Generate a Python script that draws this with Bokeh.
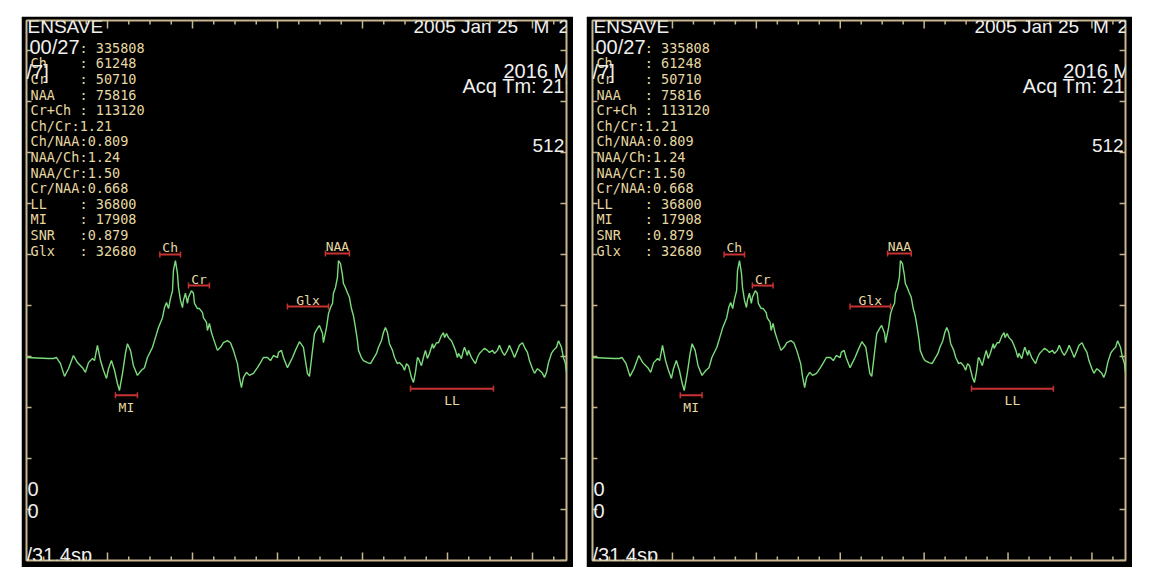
import numpy as np
from bokeh.plotting import figure
from bokeh.models import Range1d, Label
from bokeh.layouts import row
from bokeh.embed import file_html
from bokeh.resources import INLINE
from bokeh.core.properties import value

# ---------------- data ----------------
ppm = [4.300, 4.135, 4.098, 4.075, 4.045, 4.015, 3.985, 3.948, 3.918, 3.880,
       3.858, 3.835, 3.805, 3.790, 3.768, 3.745, 3.723, 3.700, 3.685, 3.663,
       3.640, 3.618, 3.603, 3.580, 3.558, 3.543, 3.520, 3.498, 3.468, 3.438,
       3.415, 3.393, 3.355, 3.333, 3.310, 3.280, 3.265, 3.250, 3.235, 3.220,
       3.205, 3.198, 3.183, 3.168, 3.160, 3.145, 3.130, 3.123, 3.108, 3.093,
       3.085, 3.063, 3.048, 3.040, 3.018, 3.003, 2.980, 2.973, 2.950, 2.943,
       2.928, 2.913, 2.898, 2.868, 2.845, 2.823, 2.793, 2.770, 2.748, 2.718,
       2.703, 2.688, 2.673, 2.650, 2.628, 2.598, 2.568, 2.545, 2.523, 2.493,
       2.470, 2.448, 2.418, 2.410, 2.388, 2.373, 2.343, 2.328, 2.305, 2.283,
       2.253, 2.223, 2.208, 2.193, 2.178, 2.155, 2.140, 2.118, 2.103, 2.080,
       2.073, 2.050, 2.035, 2.020, 2.005, 1.998, 1.983, 1.968, 1.960, 1.945,
       1.930, 1.923, 1.908, 1.893, 1.878, 1.863, 1.848, 1.833, 1.818, 1.810,
       1.788, 1.773, 1.743, 1.720, 1.698, 1.675, 1.660, 1.638, 1.623, 1.608,
       1.593, 1.578, 1.555, 1.540, 1.518, 1.503, 1.480, 1.465, 1.450, 1.435,
       1.413, 1.398, 1.383, 1.368, 1.360, 1.338, 1.323, 1.308, 1.293, 1.278,
       1.255, 1.248, 1.225, 1.210, 1.188, 1.173, 1.165, 1.150, 1.135, 1.113,
       1.098, 1.083, 1.068, 1.060, 1.038, 1.023, 1.015, 0.993, 0.985, 0.963,
       0.948, 0.933, 0.918, 0.903, 0.880, 0.865, 0.843, 0.828, 0.805, 0.790,
       0.768, 0.753, 0.730, 0.715, 0.693, 0.678, 0.655, 0.640, 0.618, 0.603,
       0.580, 0.565, 0.543, 0.528, 0.505, 0.490, 0.468, 0.453, 0.430, 0.415,
       0.400, 0.385, 0.363, 0.348, 0.325, 0.310, 0.288, 0.273, 0.258, 0.250]

amp = [-0.02, -0.04, -0.04, -0.02, -0.14, -0.39, -0.24, 0.02, -0.12, -0.22,
       -0.31, -0.12, -0.04, -0.08, 0.22, -0.08, -0.27, -0.43, -0.24, -0.08,
       -0.27, -0.53, -0.67, -0.33, 0.06, 0.25, 0.12, -0.18, -0.37, -0.27,
       -0.22, -0.02, 0.18, 0.37, 0.57, 0.76, 0.96, 1.06, 0.94, 1.14,
       1.29, 1.69, 1.88, 1.63, 1.35, 1.10, 0.96, 1.10, 1.24, 1.04,
       1.16, 1.29, 1.24, 1.04, 0.94, 0.94, 0.86, 0.76, 0.67, 0.51,
       0.65, 0.47, 0.35, 0.12, 0.18, 0.27, 0.31, 0.27, 0.12, -0.14,
       -0.41, -0.61, -0.41, -0.31, -0.37, -0.33, -0.22, -0.12, -0.02, -0.02,
       -0.08, 0.02, -0.02, 0.08, 0.12, -0.02, -0.22, -0.14, -0.02, 0.12,
       0.29, 0.18, -0.08, -0.33, -0.39, 0.12, 0.45, 0.55, 0.61, 0.45,
       0.27, 0.57, 0.84, 0.96, 1.04, 1.24, 1.35, 1.55, 1.88, 1.82,
       1.59, 1.43, 1.35, 1.25, 1.16, 0.94, 0.80, 0.57, 0.31, 0.12,
       -0.02, -0.08, -0.12, -0.14, -0.04, 0.06, 0.18, 0.31, 0.47, 0.57,
       0.47, 0.25, 0.12, -0.02, -0.14, -0.12, -0.18, -0.27, -0.14, -0.18,
       -0.41, -0.51, -0.31, -0.02, -0.04, -0.18, -0.02, 0.12, -0.04, 0.06,
       0.25, 0.16, 0.27, 0.27, 0.41, 0.47, 0.37, 0.45, 0.37, 0.31,
       0.22, 0.12, -0.02, 0.06, -0.04, 0.12, 0.18, 0.02, 0.12, -0.02,
       -0.08, -0.14, -0.02, 0.06, 0.12, 0.16, 0.12, 0.08, 0.12, 0.06,
       0.12, 0.22, 0.08, 0.02, 0.12, 0.22, 0.08, -0.02, 0.12, 0.22,
       0.27, 0.18, 0.08, -0.08, -0.24, -0.33, -0.24, -0.27, -0.33, -0.41,
       -0.31, -0.12, 0.06, 0.12, 0.18, 0.31, 0.18, -0.02, -0.14, -0.31]

marker_names = ["Ch", "Cr", "MI", "Glx", "NAA", "LL"]
marker_start = [3.300, 3.085, 3.633, 2.343, 2.058, 1.420]
marker_end = [3.145, 2.928, 3.468, 2.035, 1.878, 0.798]
marker_level = [2.00, 1.39, -0.76, 0.98, 2.02, -0.63]
marker_side = ["above", "above", "below", "above", "above", "below"]

table_names = ["", "Ch", "Cr", "NAA", "Cr+Ch", "Ch/Cr", "Ch/NAA", "NAA/Ch",
               "NAA/Cr", "Cr/NAA", "LL", "MI", "SNR", "Glx"]
table_values = ["335808", "61248", "50710", "75816", "113120", "1.21", "0.809",
                "1.24", "1.50", "0.668", "36800", "17908", "0.879", "32680"]

major_x = [3.6925, 3.055, 2.4175, 1.78, 1.1425, 0.505]
y_ticks = [-4, -3, -2, -1, 0, 1, 2, 3, 4, 5, 6]

# ---------------- style ----------------
X_LEFT, X_RIGHT = 4.30, 0.25
Y_BOTTOM, Y_TOP = -4.0, 6.588
TAN = "#c8b78e"
GREEN = "#7cdc7c"
RED = "#c83232"
PALE = "#e6d8a2"
WHITE = "#efefef"
MONO = "DejaVu Sans Mono"
SANS = "Liberation Sans"

KX = (X_LEFT - X_RIGHT) / 540.0   # data units per reference pixel
KY = (Y_TOP - Y_BOTTOM) / 540.0

step = (major_x[0] - major_x[1]) / 4
minor_x = [major_x[0] - step * k for k in range(-3, 22)]
minor_x = [m for m in minor_x
           if X_RIGHT <= m <= X_LEFT and min(abs(m - t) for t in major_x) > step / 2]


def X(px):  # layout helper: reference pixel (panel 1) -> data x
    return X_LEFT - (px - 26) * KX


def Y(py):  # layout helper: reference pixel -> data y
    return Y_TOP - (py - 20) * KY


def base_label(txt, px, baseline_py, font, size_px, color):
    # label vertically centred on its text box; place so the baseline lands at baseline_py
    centre = baseline_py - 0.3465 * size_px
    return Label(x=X(px), y=Y(centre), text=txt, text_font=font,
                 text_font_size="%gpx" % size_px, text_color=color,
                 text_align="left", text_baseline="middle")


def make_panel(width, left_border):
    p = figure(width=width, height=551,
               x_range=Range1d(X_LEFT, X_RIGHT), y_range=Range1d(Y_BOTTOM, Y_TOP),
               output_backend="svg", toolbar_location=None,
               x_axis_location=None, y_axis_location=None,
               min_border_left=left_border, min_border_right=7,
               min_border_top=4, min_border_bottom=7,
               background_fill_color="black", border_fill_color="black",
               outline_line_color=TAN, outline_line_width=2)
    p.xgrid.grid_line_color = None
    p.ygrid.grid_line_color = None

    # frame ticks (pointing inwards)
    tick = dict(line_color=TAN, line_width=1.5)
    for y_edge, sgn in ((Y_BOTTOM, 1), (Y_TOP, -1)):
        p.segment(x0=major_x, y0=[y_edge] * len(major_x), x1=major_x,
                  y1=[y_edge + sgn * 8 * KY] * len(major_x), **tick)
        p.segment(x0=minor_x, y0=[y_edge] * len(minor_x), x1=minor_x,
                  y1=[y_edge + sgn * 4 * KY] * len(minor_x), **tick)
    p.segment(x0=[X_LEFT] * len(y_ticks), y0=y_ticks,
              x1=[X_LEFT - 5 * KX] * len(y_ticks), y1=y_ticks, **tick)
    p.segment(x0=[X_RIGHT] * len(y_ticks), y0=y_ticks,
              x1=[X_RIGHT + 6 * KX] * len(y_ticks), y1=y_ticks, **tick)

    # spectrum
    p.line(ppm, amp, line_color=GREEN, line_width=1.4)

    # integration markers
    p.segment(x0=marker_start, y0=marker_level, x1=marker_end, y1=marker_level,
              line_color=RED, line_width=2)
    p.scatter(x=marker_start + marker_end, y=marker_level + marker_level,
              marker="dash", angle=np.pi / 2, size=6, line_color=RED, line_width=1.5)
    mids = [(a + b) / 2 for a, b in zip(marker_start, marker_end)]
    up = [i for i, s in enumerate(marker_side) if s == "above"]
    dn = [i for i, s in enumerate(marker_side) if s == "below"]
    p.text(x=[mids[i] for i in up], y=[marker_level[i] - 1 * KY for i in up],
           text=[marker_names[i] for i in up], text_font=value(MONO),
           text_font_size="13px", text_color=PALE, text_align="center",
           text_baseline="bottom")
    p.text(x=[mids[i] for i in dn], y=[marker_level[i] - 4.5 * KY for i in dn],
           text=[marker_names[i] for i in dn], text_font=value(MONO),
           text_font_size="13px", text_color=PALE, text_align="center",
           text_baseline="top")

    # results table: name column and ": value" column
    for i, (n, v) in enumerate(zip(table_names, table_values)):
        by = 52 + 15.6 * i
        if n:
            p.add_layout(base_label(n, 30, by, MONO, 13.5, PALE))
        col = 71 if n == "Ch/Cr" else 79
        txt = (":" + v) if "." in v else (": " + v)
        p.add_layout(base_label(txt, col, by, MONO, 13.5, PALE))

    # screen texts
    screen = [
        ("ENSAVE", 27, 33, 19),
        ("2005 Jan 25", 413, 33, 19),
        ("M", 533, 33, 19),
        ("2", 558, 33, 19),
        ("00/27", 29, 53, 20),
        ("/7]", 26, 78, 20),
        ("2016 M", 503, 77, 20),
        ("Acq Tm: 21:", 462, 92, 20),
        ("512", 532, 152, 19),
        ("0", 27, 495, 20),
        ("0", 27, 517, 20),
        ("/31.4sp", 26, 561, 20),
    ]
    for txt, px, py, fs in screen:
        p.add_layout(base_label(txt, px, py, SANS, fs, WHITE))
    return p


p1 = make_panel(552, 5)
p2 = make_panel(546, 6)
p1.margin = (16, 0, 0, 21)
p2.margin = (16, 0, 0, 13)

layout = row(p1, p2)

open("out.html", "w").write(file_html(layout, INLINE))
